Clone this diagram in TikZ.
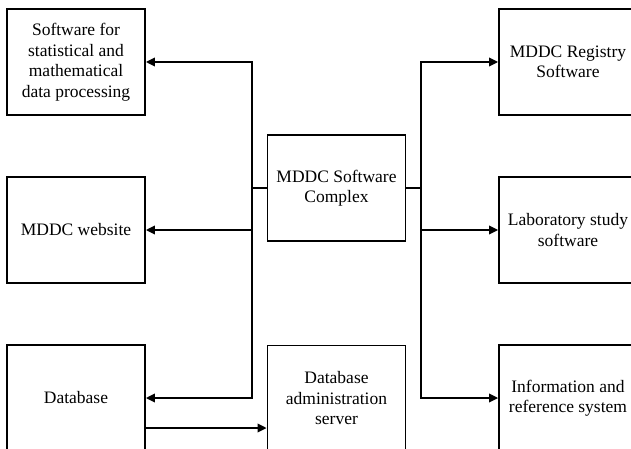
\documentclass[tikz,border=0pt]{standalone}
\usepackage{fontspec}
\setmainfont{Liberation Serif}
\usetikzlibrary{arrows.meta}
\begin{document}
\begin{tikzpicture}[x=1pt,y=-1pt,
  box/.style={draw, line width=1.8pt, minimum width=138pt, minimum height=106pt,
    align=center, inner sep=2pt, font=\fontsize{17.5}{20.5}\selectfont},
  link/.style={line width=1.8pt},
  arr/.style={line width=1.8pt, -{Triangle[length=9pt,width=8.5pt]}}]
\path[use as bounding box] (0,0) rectangle (631,449);
\clip (0,0) rectangle (631,449);
\node[box] (n1) at (76,62) {Software for\\statistical and\\mathematical\\data processing};
\node[box] (n2) at (76,230) {MDDC website};
\node[box] (n3) at (76,398) {Database};
\node[box] (c) at (336.5,188) {MDDC Software\\Complex};
\node[box] (a) at (336.5,398.5) {Database\\administration\\server};
\node[box] (r1) at (568,62) {MDDC Registry\\Software};
\node[box] (r2) at (568,230) {Laboratory study\\software};
\node[box] (r3) at (568,398) {Information and\\reference system};
\coordinate (lb) at (252,188);
\coordinate (rb) at (421,188);
\draw[link] (c.west) -- (lb);
\draw[arr] (lb) |- (n1.east);
\draw[arr] (lb) |- (n2.east);
\draw[arr] (lb) |- (n3.east);
\draw[link] (c.east) -- (rb);
\draw[arr] (rb) |- (r1.west);
\draw[arr] (rb) |- (r2.west);
\draw[arr] (rb) |- (r3.west);
\draw[arr] ([yshift=-30pt]n3.east) -- ([yshift=-30pt]n3.east -| a.west);
\end{tikzpicture}
\end{document}
